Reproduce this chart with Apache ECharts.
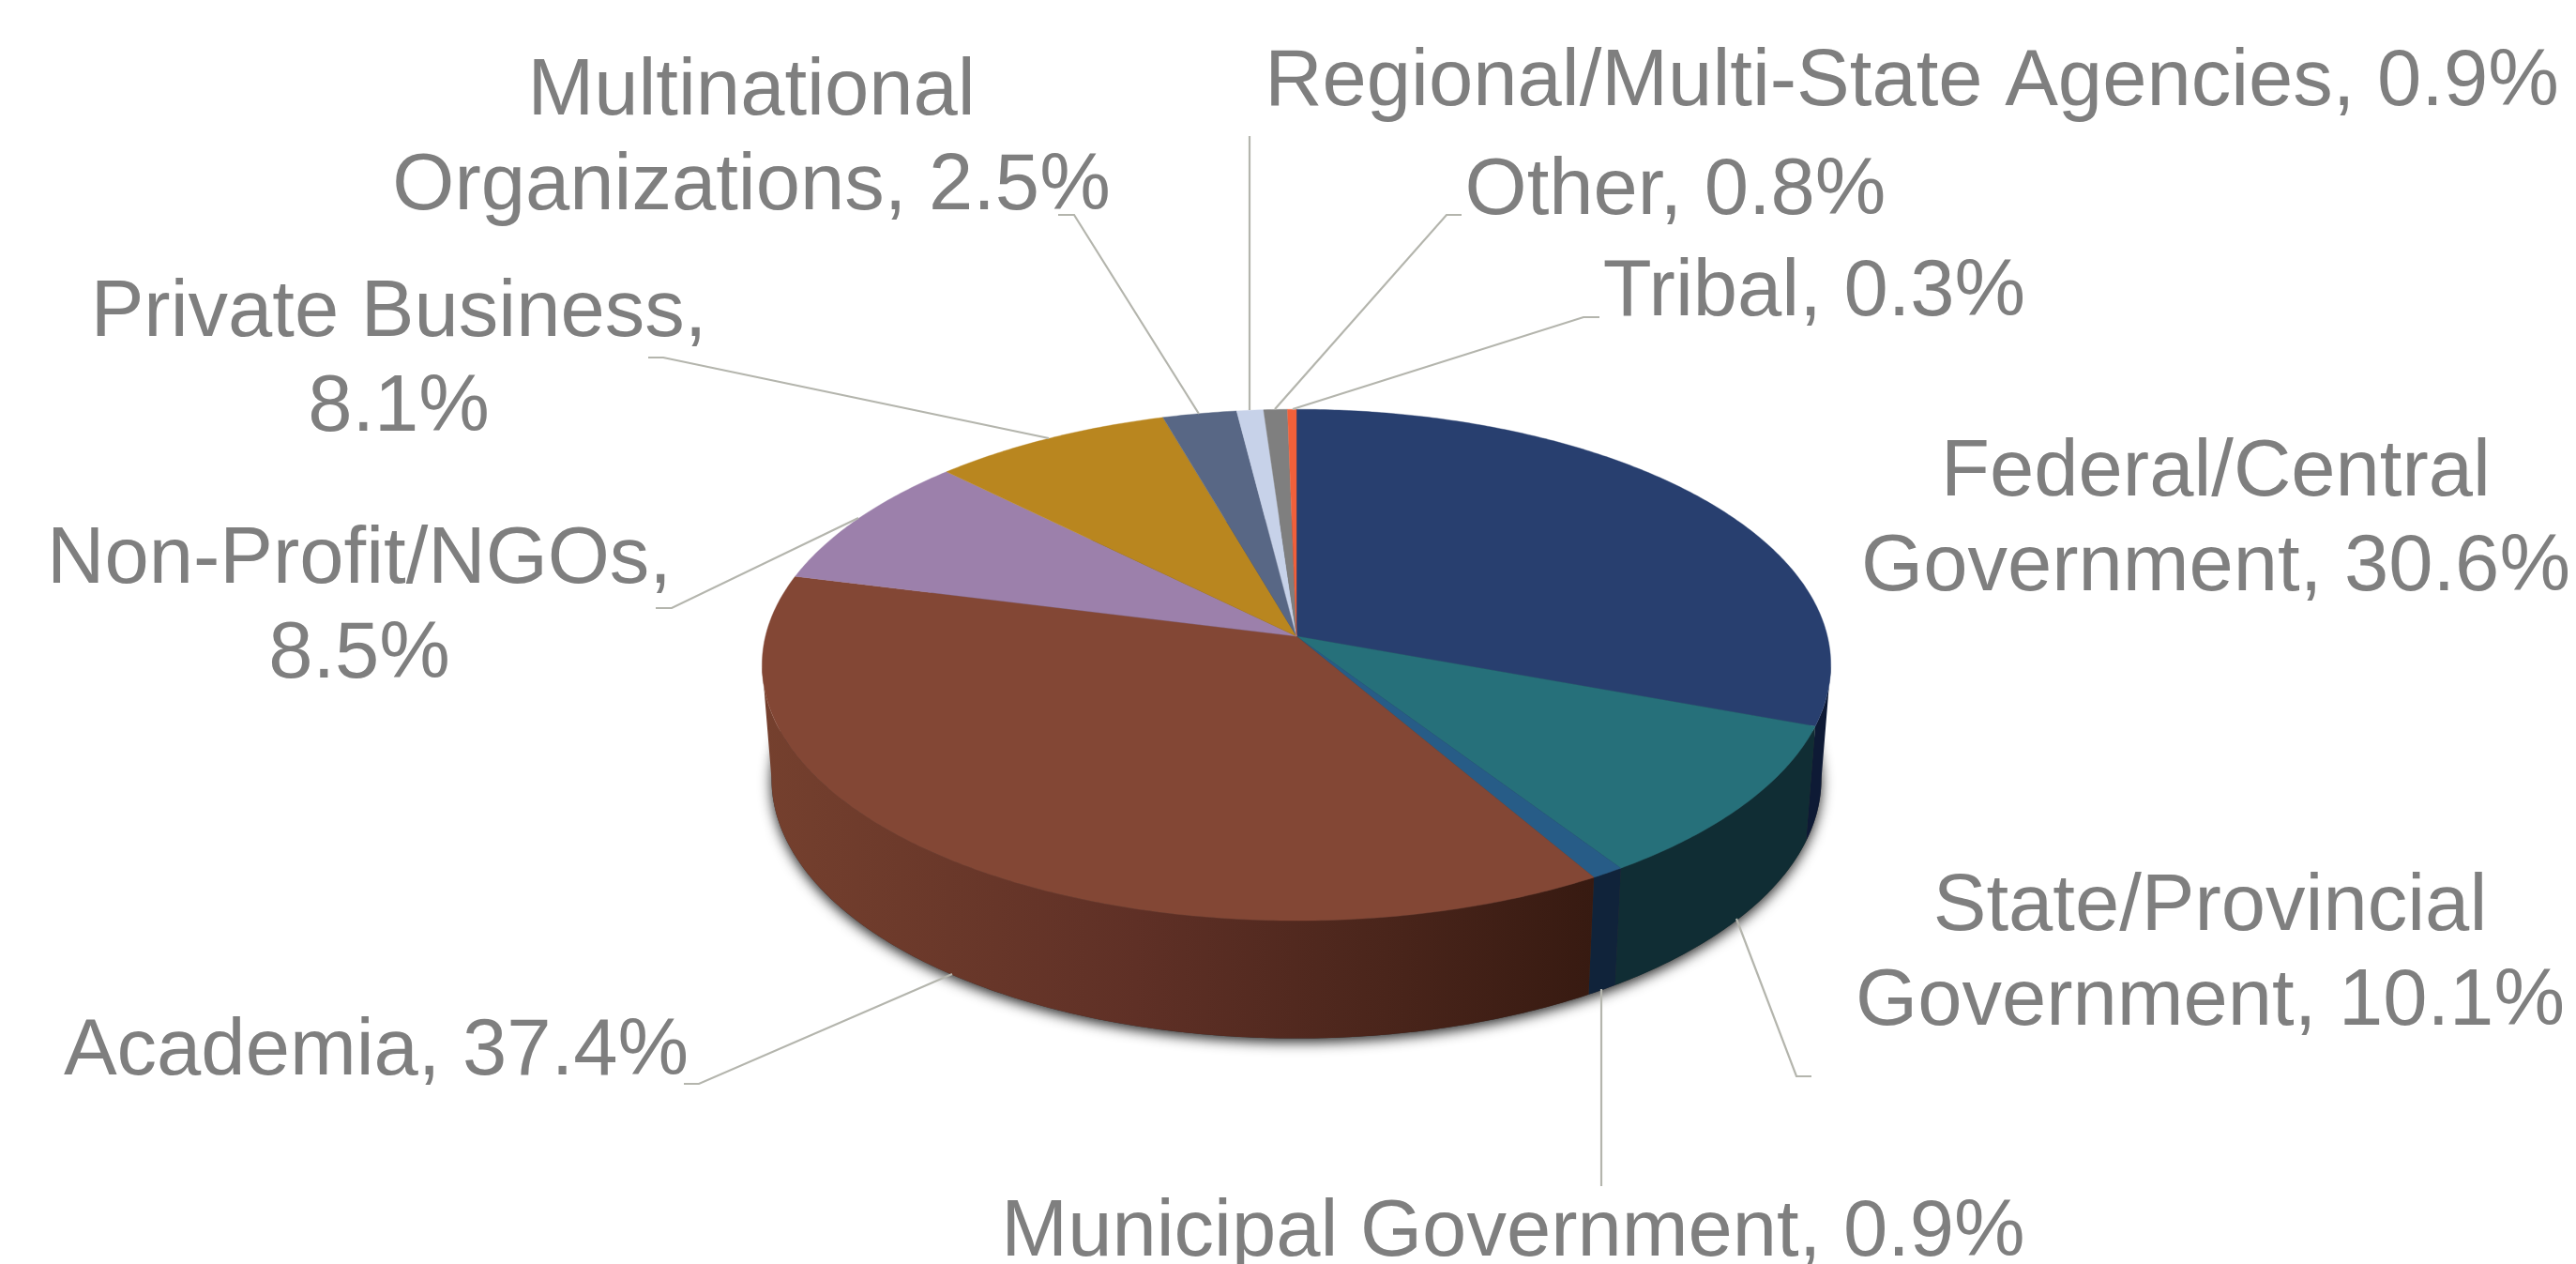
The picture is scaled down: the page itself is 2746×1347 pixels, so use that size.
<!DOCTYPE html>
<html><head><meta charset="utf-8">
<script src="https://cdn.jsdelivr.net/npm/echarts@6/dist/echarts.min.js"></script>
<style>html,body{margin:0;padding:0;background:#fff}#c{width:2746px;height:1347px}</style>
</head><body><div id="c"></div>
<script>
var categories = ["Federal/Central\nGovernment","State/Provincial\nGovernment","Municipal Government","Academia","Non-Profit/NGOs","Private Business","Multinational\nOrganizations","Regional/Multi-State Agencies","Other","Tribal"];
var shares = [30.6,10.1,0.9,37.4,8.5,8.1,2.5,0.9,0.8,0.3];
var valueBreaks = [" "," "," "," ","\n","\n"," "," "," "," "];
var topColors = ["#283F6F","#26707A","#275C87","#834735","#9C80AB","#B9861F","#586785","#C7D2E9","#7F7F7F","#F1603A"];
var wallColors = ["#0E1A35","#102D34","#10233A",
  {type:"linear",x:0,y:0,x2:1,y2:0,colorStops:[{offset:0,color:"#75402E"},{offset:0.45,color:"#5F3026"},{offset:0.75,color:"#4A251B"},{offset:1,color:"#371A11"}]},
  "#4E3F56","#5C4310","#2C3342","#636974","#3F3F3F","#78301D"];
var labelCenters = [[2362,555],[2356,1018],[1613,1315],[401,1122],[383,648],[425,385],[801,149],[2038,89],[1786,205],[1934,313]];
var leaderPaths = [null,
  [[1851,979],[1915,1147],[1931,1147]],
  [[1707,1054],[1707,1264]],
  [[1015,1038],[745,1155],[729,1155]],
  [[915,552],[716,648],[699,648]],
  [[1118,467],[707,381],[691,381]],
  [[1278,441],[1145,229],[1128,229]],
  [[1332,437],[1332,145]],
  [[1359,436],[1542,229],[1558,229]],
  [[1378,436],[1688,338],[1705,338]]];
var top3d = {cx:1382,cy:678,rx:566,ry:269,k:0.1125};
var base3d = {cx:1382,cy:799,rx:556,ry:273,k:0.1125};
var total = shares.reduce(function(a,b){return a+b;},0);
function cumBefore(i){var s=0;for(var j=0;j<i;j++)s+=shares[j];return s;}
function project(d,a){var w=1+d.k*Math.cos(a);return [d.cx+d.rx*Math.sin(a)/w,d.cy-d.ry*Math.cos(a)/w];}
function arc(d,a0,a1){var n=Math.max(2,Math.ceil(Math.abs(a1-a0)/0.01)),p=[];for(var i=0;i<=n;i++)p.push(project(d,a0+(a1-a0)*i/n));return p;}
function range(i,v){var a0=cumBefore(i)/total*2*Math.PI;return [a0,a0+v/total*2*Math.PI];}
var silhouetteStart = Math.acos(-top3d.k), silhouetteEnd = 2*Math.PI-silhouetteStart;
var seriesData = shares.map(function(v,i){return {name:categories[i],value:v};});
var chart = echarts.init(document.getElementById("c"),null,{renderer:"canvas"});
chart.setOption({
  animation:false,backgroundColor:"#fff",
  series:[
  {type:"custom",coordinateSystem:"none",silent:true,z:1,data:[shares[0]],
   renderItem:function(){return {type:"polygon",shape:{points:arc(base3d,0,2*Math.PI)},
     style:{fill:"#333",shadowBlur:14,shadowColor:"rgba(0,0,0,0.85)",shadowOffsetX:0,shadowOffsetY:4}};}},
  {type:"custom",coordinateSystem:"none",silent:true,z:2,data:seriesData,
   renderItem:function(p,api){var i=p.dataIndex,r=range(i,api.value(0));
     var a0=Math.max(r[0],silhouetteStart),a1=Math.min(r[1],silhouetteEnd);
     if(a1<=a0)return {type:"group",children:[]};
     return {type:"polygon",shape:{points:arc(top3d,a0,a1).concat(arc(base3d,a1,a0))},
       style:{fill:wallColors[i]}};}},
  {type:"custom",coordinateSystem:"none",silent:true,z:3,data:seriesData,
   renderItem:function(p,api){var i=p.dataIndex,r=range(i,api.value(0));
     return {type:"polygon",shape:{points:[[top3d.cx,top3d.cy]].concat(arc(top3d,r[0],r[1]))},
       style:{fill:topColors[i],stroke:topColors[i],lineWidth:0.4}};}},
  {type:"custom",coordinateSystem:"none",silent:true,z:4,data:seriesData,
   renderItem:function(p,api){var i=p.dataIndex,kids=[];
     if(leaderPaths[i])kids.push({type:"polyline",shape:{points:leaderPaths[i]},style:{fill:null,stroke:"#B4B5AD",lineWidth:2.2}});
     kids.push({type:"text",x:labelCenters[i][0],y:labelCenters[i][1],
       style:{text:categories[i]+","+valueBreaks[i]+shares[i].toFixed(1)+"%",fill:"#7F7F7F",font:'85px "Liberation Sans"',align:"center",verticalAlign:"middle",lineHeight:101}});
     return {type:"group",children:kids};}}
  ]
});
</script></body></html>
